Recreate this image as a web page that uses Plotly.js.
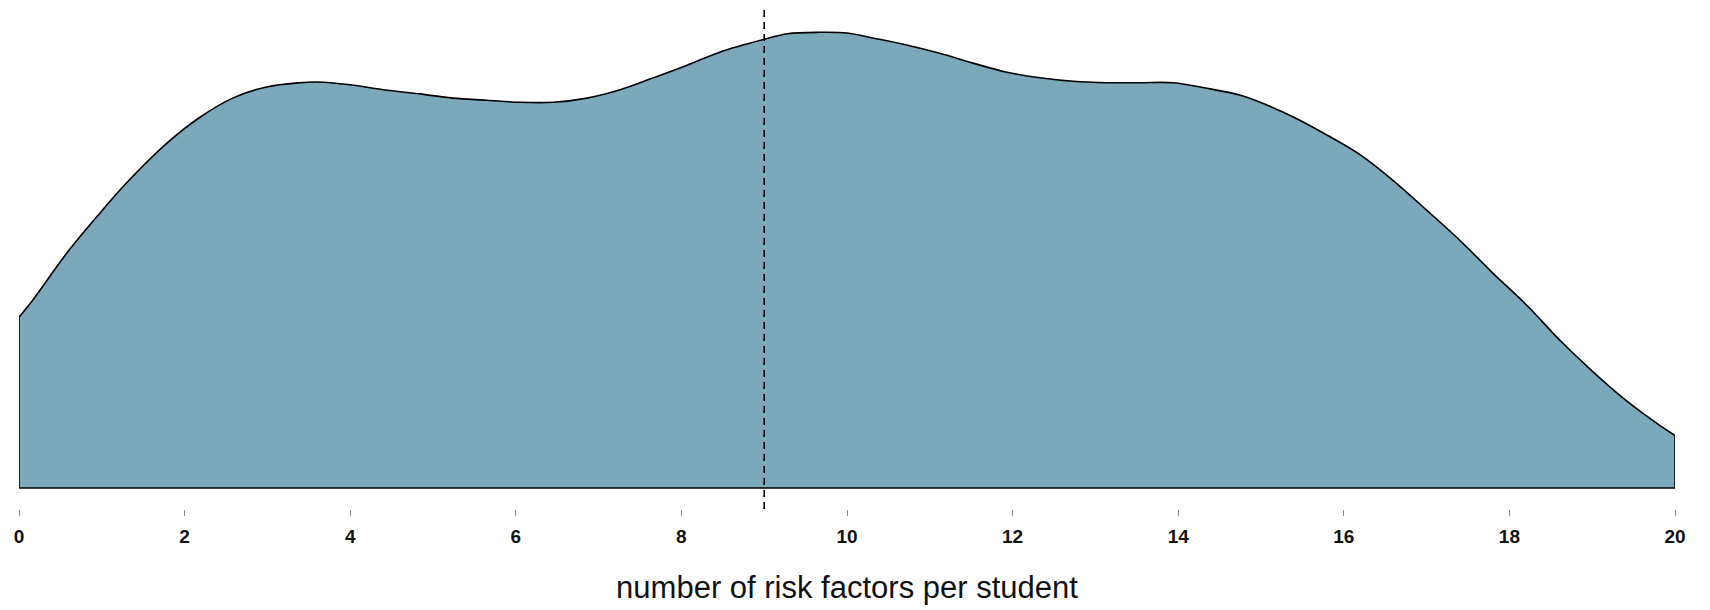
<!DOCTYPE html>
<html>
<head>
<meta charset="utf-8">
<script src="https://cdn.plot.ly/plotly-3.0.1.min.js"></script>
<style>html,body{margin:0;padding:0;background:#fff;}#chart{width:1710px;height:610px;}</style>
</head>
<body>
<div id="chart"></div>
<script>
// number of risk factors per student (x) and estimated density (y)
var riskFactors = [0, 0.17, 0.58, 0.98, 1.30, 1.79, 2.19, 2.58, 2.99, 3.39, 3.6, 4.0, 4.4, 4.84, 5.24, 5.65, 6.05, 6.45, 6.86, 7.26, 7.66, 8.07, 8.47, 9.0, 9.28, 9.67, 10.0, 10.31, 10.72, 11.12, 11.52, 11.93, 12.33, 12.73, 13.14, 13.54, 13.94, 14.35, 14.75, 14.99, 15.39, 15.8, 16.2, 16.59, 17.0, 17.4, 17.8, 18.21, 18.61, 19.01, 19.42, 19.82, 20.0];
var density = [0.0244, 0.0269, 0.0336, 0.0393, 0.0436, 0.0493, 0.0530, 0.0557, 0.0573, 0.0579, 0.0580, 0.0576, 0.0569, 0.0563, 0.0557, 0.0554, 0.0551, 0.0551, 0.0557, 0.0569, 0.0586, 0.0604, 0.0623, 0.0641, 0.0649, 0.0651, 0.0650, 0.0643, 0.0633, 0.0621, 0.0607, 0.0594, 0.0586, 0.0581, 0.0579, 0.0579, 0.0579, 0.0571, 0.0561, 0.0551, 0.0530, 0.0504, 0.0476, 0.0440, 0.0397, 0.0354, 0.0307, 0.0261, 0.0211, 0.0166, 0.0124, 0.0089, 0.0075];
var meanValue = 9;
var xTicks = [0, 2, 4, 6, 8, 10, 12, 14, 16, 18, 20];
var xTitle = 'number of risk factors per student';

var n = riskFactors.length;
var curve = {
  x: riskFactors, y: density, type: 'scatter', mode: 'lines',
  line: {color: '#000', width: 1.6, shape: 'spline', smoothing: 1},
  fill: 'tozeroy', fillcolor: '#7ba8bb', hoverinfo: 'skip', showlegend: false
};
var edges = {
  x: [riskFactors[0], riskFactors[0], riskFactors[n - 1], riskFactors[n - 1]],
  y: [density[0], 0, 0, density[n - 1]],
  type: 'scatter', mode: 'lines', line: {color: '#000', width: 1.6},
  hoverinfo: 'skip', showlegend: false
};

var layout = {
  width: 1710, height: 610,
  margin: {l: 19, r: 35, t: 9, b: 101},
  paper_bgcolor: '#fff', plot_bgcolor: '#fff',
  showlegend: false,
  xaxis: {
    range: [0, 20], tickvals: xTicks, ticktext: xTicks.map(String),
    ticks: 'outside', ticklen: 6, tickwidth: 1, tickcolor: '#888',
    ticklabelstandoff: 4,
    showgrid: false, zeroline: false, showline: false,
    tickfont: {family: 'Liberation Sans, Arial, sans-serif', size: 19, color: '#111', weight: 'bold'},
    title: {text: xTitle, standoff: 30, font: {family: 'Liberation Sans, Arial, sans-serif', size: 31, color: '#111'}},
    automargin: false, fixedrange: true
  },
  yaxis: {visible: false, range: [-0.003, 0.06843], fixedrange: true},
  shapes: [{
    type: 'line', xref: 'x', yref: 'paper', x0: meanValue, x1: meanValue, y0: 0, y1: 1,
    line: {color: '#000', width: 1.6, dash: '7px,5px'}
  }]
};

Plotly.newPlot('chart', [curve, edges], layout, {displayModeBar: false, staticPlot: true});
</script>
</body>
</html>
